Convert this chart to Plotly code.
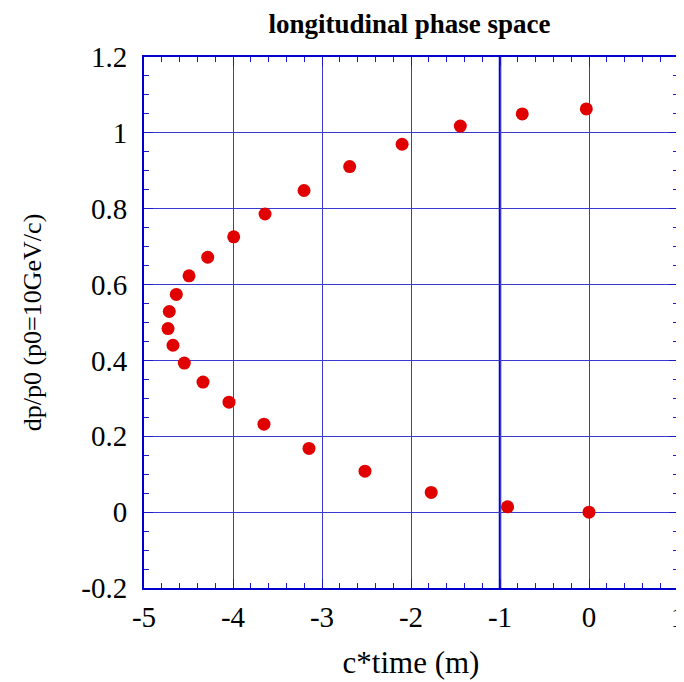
import plotly.graph_objects as go

ct = [-0.03, -0.75, -1.446, -2.10, -2.689, -3.202, -3.640, -3.992, -4.284, -4.494,
      -4.637, -4.716, -4.730, -4.674, -4.547, -4.337, -4.045, -3.652, -3.146, -2.517,
      -1.773, -0.915, 0.0]
dp = [1.063, 1.050, 1.018, 0.970, 0.911, 0.848, 0.786, 0.726, 0.672, 0.623,
      0.574, 0.529, 0.484, 0.440, 0.393, 0.343, 0.290, 0.232, 0.168, 0.108,
      0.052, 0.014, 0.0]

x_tickvals = [-5, -4, -3, -2, -1, 0, 1]
x_ticktext = ["-5", "-4", "-3", "-2", "-1", "0", "1"]
y_tickvals = [-0.2, 0, 0.2, 0.4, 0.6, 0.8, 1.0, 1.2]
y_ticktext = ["-0.2", "0", "0.2", "0.4", "0.6", "0.8", "1", "1.2"]

blue = "#1a1acc"
font = "Liberation Serif, Times New Roman, serif"

fig = go.Figure()
fig.add_trace(go.Scatter(x=ct, y=dp, mode="markers",
                         marker=dict(color="#e00000", size=13, line=dict(width=0)),
                         showlegend=False))

axis_common = dict(
    showgrid=True, gridcolor="#3a3ad0", gridwidth=1,
    showline=True, linecolor="#0000cc", linewidth=2, mirror="allticks",
    ticks="inside", ticklen=9, tickcolor=blue, tickwidth=1,
    zeroline=False, automargin=False, ticklabeloverflow="allow",
    tickfont=dict(family=font, size=29, color="black"),
)

fig.update_xaxes(range=[-5, 1], tickvals=x_tickvals, ticktext=x_ticktext,
                 ticklabelstandoff=2,
                 title=dict(text="c*time (m)", font=dict(family=font, size=31, color="black"), standoff=20),
                 minor=dict(ticks="inside", dtick=0.2, tick0=-5, ticklen=5, tickcolor=blue, showgrid=False),
                 **axis_common)
fig.update_yaxes(range=[-0.2, 1.2], tickvals=y_tickvals, ticktext=y_ticktext,
                 ticklabelstandoff=9,
                 title=dict(text="dp/p0 (p0=10GeV/c)", font=dict(family=font, size=26, color="black"), standoff=32),
                 minor=dict(ticks="inside", dtick=0.05, tick0=-0.2, ticklen=5, tickcolor=blue, showgrid=False),
                 **axis_common)

fig.add_vline(x=-1, line=dict(color="#0000dd", width=2.5), layer="below")

# the page body adds an 8px offset; size the figure so the plot area lands at
# screen x 144..678, y 57..588
W, H = 676, 674
fig.update_layout(
    width=W, height=H,
    margin=dict(l=136, r=6, t=49, b=94),
    plot_bgcolor="white", paper_bgcolor="white",
    title=dict(text="<b>longitudinal phase space</b>", x=401.5 / W, xanchor="center",
               y=1 - 16 / H, yanchor="middle",
               font=dict(family=font, size=27, color="black")),
)

fig.write_html("out.html")
